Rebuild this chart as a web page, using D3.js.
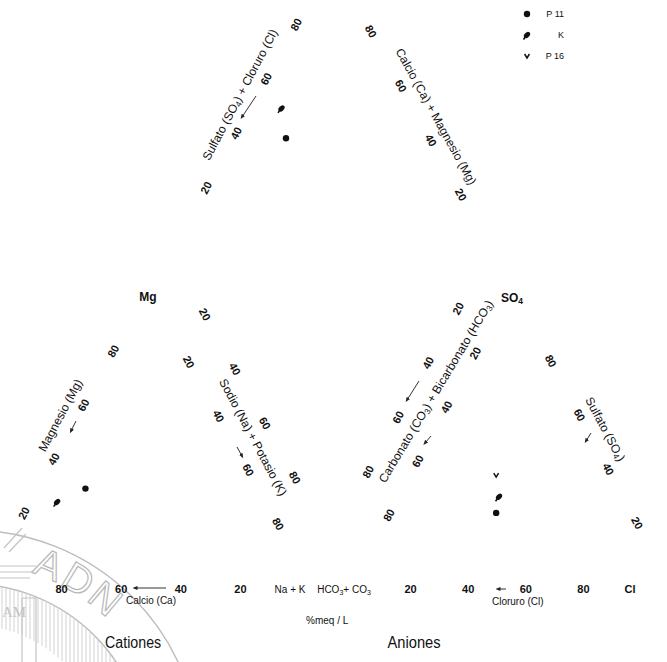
<!DOCTYPE html>
<html>
<head>
<meta charset="utf-8">
<script src="https://cdnjs.cloudflare.com/ajax/libs/d3/7.8.5/d3.min.js"></script>
<style>
body { margin: 0; background: #fff; }
text { font-family: "Liberation Sans Narrow", "Arial Narrow", "Liberation Sans", Arial, sans-serif; fill: #111; }
</style>
</head>
<body>
<div id="chart"></div>
<script>
// samples (percent of meq/L); P 16 has no cation data
const samples = ["P 11", "K", "P 16"];
const calcio = [56, 68, null];
const magnesio = [32, 27, null];
const sodioPotasio = [12, 5, null];
const bicarbonato = [44, 40, 37];
const sulfato = [23, 29, 37];
const cloruro = [33, 31, 26];
const tickValues = [20, 40, 60, 80];

const W = 667, H = 662;
let svg = d3.select("#chart").append("svg")
    .attr("width", W)
    .attr("height", H);

// triangle / diamond corners
const cat = { L: [2, 575], R: [300, 575], T: [151, 305] };
const ani = { L: [368, 575], R: [656, 575], T: [512, 305] };
const dB = [334, 530], du = [-150, -272], dv = [150, -272];
const dL = [dB[0] + du[0], dB[1] + du[1]];
const dR = [dB[0] + dv[0], dB[1] + dv[1]];
const dT = [dB[0] + du[0] + dv[0], dB[1] + du[1] + dv[1]];

function edge(p0, p1) {
    return d3.scaleLinear().domain([0, 100]).range([p0, p1]);
}

// ---------- watermark seal (faint) ----------
let wm = svg.append("g").attr("class", "watermark");
const wc = [-30, 760];
[230, 176].forEach(function (r) {
    wm.append("circle").attr("cx", wc[0]).attr("cy", wc[1]).attr("r", r)
        .attr("fill", "none").attr("stroke", "#bdbdbd").attr("stroke-width", 1.4);
});
for (let x = 2; x < 146; x += 4) {
    let dx = x - wc[0];
    if (dx > 176) continue;
    let y0 = wc[1] - Math.sqrt(176 * 176 - dx * dx);
    let y1 = dx < 135 ? wc[1] - Math.sqrt(135 * 135 - dx * dx) : wc[1];
    wm.append("line").attr("x1", x).attr("x2", x).attr("y1", y0).attr("y2", Math.min(y1, H))
        .attr("stroke", "#d2d2d2").attr("stroke-width", 1);
}
[["A", -68], ["D", -59], ["N", -50]].forEach(function (d) {
    let a = d[1] * Math.PI / 180;
    let px = wc[0] + 211 * Math.cos(a), py = wc[1] + 211 * Math.sin(a);
    wm.append("text").text(d[0])
        .attr("transform", "translate(" + px + "," + py + ") rotate(" + (d[1] + 90) + ")")
        .attr("text-anchor", "middle").attr("dominant-baseline", "central")
        .style("font-family", "'Liberation Sans', Arial, sans-serif")
        .style("font-size", "40px").style("fill", "#fff")
        .attr("stroke", "#b8b8b8").attr("stroke-width", 1.2);
});
wm.append("path").attr("d", "M4,548 L22,528 M9,552 L26,534 M0,566 L36,566 M0,572 L34,572 M0,578 L30,578 M22,598 L36,598 M22,598 L22,662 M36,598 L36,662")
    .attr("fill", "none").attr("stroke", "#c4c4c4").attr("stroke-width", 1.2);
wm.append("text").text("AM").attr("x", 2).attr("y", 617)
    .style("font-family", "'Liberation Serif', serif").style("font-size", "15px").style("fill", "#c4c4c4");

// ---------- tick labels ----------
const tickSets = [
    { s: edge(cat.L, cat.T), dx: -8, dy: -8, rot: -62 },
    { s: edge(cat.T, cat.R), dx: 8, dy: 3, rot: 62 },
    { s: edge(cat.R, cat.L), dx: 0, dy: 14, rot: 0 },
    { s: edge(dL, dB), dx: -9, dy: 2, rot: 62 },
    { s: edge(dL, dT), dx: -8, dy: -16, rot: -62 },
    { s: edge(dR, dT), dx: 7, dy: -9, rot: 62 },
    { s: edge(dR, dB), dx: 4, dy: -4, rot: -62 },
    { s: edge(ani.T, ani.L), dx: -8, dy: -6, rot: -62 },
    { s: edge(ani.R, ani.T), dx: 10, dy: 2, rot: 62 },
    { s: edge(ani.L, ani.R), dx: -15, dy: 14, rot: 0 }
];
tickSets.forEach(function (set) {
    svg.append("g").selectAll("text").data(tickValues).enter()
        .append("text")
        .text(function (d) { return d; })
        .attr("transform", function (d) {
            let p = set.s(d);
            return "translate(" + (p[0] + set.dx) + "," + (p[1] + set.dy) + ") rotate(" + set.rot + ")";
        })
        .attr("text-anchor", "middle")
        .attr("dominant-baseline", "central")
        .style("font-size", "11px")
        .style("font-weight", "bold");
});

// ---------- axis titles ----------
function title(parts, scale, pct, dx, dy, rot, size) {
    let p = scale(pct);
    let t = svg.append("text")
        .attr("transform", "translate(" + (p[0] + dx) + "," + (p[1] + dy) + ") rotate(" + rot + ")")
        .attr("text-anchor", "middle")
        .attr("dominant-baseline", "central")
        .style("font-size", (size || 12) + "px");
    let shift = 0;
    parts.forEach(function (q) {
        let sp = t.append("tspan").text(q[0]);
        if (q[1]) {
            sp.attr("dy", 3 - shift).style("font-size", "0.7em");
            shift = 3;
        } else {
            if (shift) sp.attr("dy", -shift);
            shift = 0;
        }
    });
    return t;
}
title([["Magnesio (Mg)"]], edge(cat.L, cat.T), 58, -28, -3, -62);
title([["Sodio (Na) + Potasio (K)"]], edge(cat.T, cat.R), 49, 29, 0, 62);
title([["Sulfato (SO"], ["4", 1], [") + Cloruro (Cl)"]], edge(dL, dT), 60, -34, 0, -62);
title([["Calcio (Ca) + Magnesio (Mg)"]], edge(dR, dT), 52, 30, 0, 61);
title([["Carbonato (CO"], ["3", 1], [") + Bicarbonato (HCO"], ["3", 1], [")"]], edge(ani.T, ani.L), 32, -30, 0, -59);
title([["Sulfato (SO"], ["4", 1], [")"]], edge(ani.R, ani.T), 54, 27, 0, 62);
title([["Calcio (Ca)"]], edge(cat.R, cat.L), 50, 0, 25, 0, 10);
title([["Cloruro (Cl)"]], edge(ani.L, ani.R), 52, 0, 26, 0, 10);

// corner labels
title([["Mg"]], edge(cat.L, cat.T), 100, -3, -8, 0, 12).style("font-weight", "bold");
title([["SO"], ["4", 1]], edge(ani.R, ani.T), 100, 0, -7, 0, 12).style("font-weight", "bold");
title([["Na + K"]], edge(cat.R, cat.L), 0, -10, 14, 0, 10);
title([["HCO"], ["3", 1], ["+ CO"], ["3", 1]], edge(ani.L, ani.R), 0, -24, 14, 0, 10);
title([["Cl"]], edge(ani.L, ani.R), 100, -26, 14, 0, 11).style("font-weight", "bold");
title([["%meq / L"]], edge(cat.R, ani.L), 40, 0, 45, 0, 10);
title([["Cationes"]], edge(cat.L, cat.R), 44, 0, 67, 0, 16).attr("textLength", 56).attr("lengthAdjust", "spacingAndGlyphs");
title([["Aniones"]], edge(ani.L, ani.R), 16, 0, 67, 0, 16).attr("textLength", 53).attr("lengthAdjust", "spacingAndGlyphs");

// little direction arrows
svg.append("defs").append("marker")
    .attr("id", "ah").attr("viewBox", "0 0 10 10").attr("refX", 5).attr("refY", 5)
    .attr("markerWidth", 5).attr("markerHeight", 5).attr("orient", "auto-start-reverse")
    .append("path").attr("d", "M0,1 L10,5 L0,9 z").attr("fill", "#222");
const arrows = [
    [[76, 421], [71, 431]],
    [[237, 447], [242, 456]],
    [[256, 96], [242, 117]],
    [[166, 588], [135, 588]],
    [[419, 381], [407, 400]],
    [[431, 436], [425, 443]],
    [[506, 589], [498, 589]],
    [[591, 433], [586, 441]]
];
svg.append("g").selectAll("line").data(arrows).enter().append("line")
    .attr("x1", function (d) { return d[0][0]; }).attr("y1", function (d) { return d[0][1]; })
    .attr("x2", function (d) { return d[1][0]; }).attr("y2", function (d) { return d[1][1]; })
    .attr("stroke", "#333").attr("stroke-width", 1)
    .attr("marker-end", "url(#ah)");

// ---------- points ----------
function drawSymbol(g, i) {
    if (i === 0) {
        g.append("circle").attr("r", 3.2).attr("fill", "#111");
    } else if (i === 1) {
        g.append("ellipse").attr("rx", 3.6).attr("ry", 2.5).attr("transform", "rotate(-45)").attr("fill", "#111");
        g.append("line").attr("x1", -1).attr("y1", 1).attr("x2", -3.5).attr("y2", 4.5)
            .attr("stroke", "#111").attr("stroke-width", 1.6);
    } else {
        g.append("path").attr("d", "M-2.4,-2 L0,2 L2.4,-2").attr("fill", "none")
            .attr("stroke", "#111").attr("stroke-width", 1.5);
    }
}

let data = samples.map(function (name, i) {
    return { name: name, i: i, ca: calcio[i], mg: magnesio[i], na: sodioPotasio[i],
             hco3: bicarbonato[i], so4: sulfato[i], cl: cloruro[i] };
});

function cationXY(d) {
    return [ (d.ca * cat.L[0] + d.mg * cat.T[0] + d.na * cat.R[0]) / 100,
             (d.ca * cat.L[1] + d.mg * cat.T[1] + d.na * cat.R[1]) / 100 ];
}
function anionXY(d) {
    return [ (d.hco3 * ani.L[0] + d.so4 * ani.T[0] + d.cl * ani.R[0]) / 100,
             (d.hco3 * ani.L[1] + d.so4 * ani.T[1] + d.cl * ani.R[1]) / 100 ];
}
function diamondXY(d) {
    let a = (d.ca + d.mg) / 100, b = (d.so4 + d.cl) / 100;
    return [dB[0] + a * du[0] + b * dv[0], dB[1] + a * du[1] + b * dv[1]];
}

let withCations = data.filter(function (d) { return d.ca !== null; });
[[withCations, cationXY], [data, anionXY], [withCations, diamondXY]].forEach(function (pair) {
    svg.append("g").selectAll("g").data(pair[0]).enter().append("g")
        .attr("transform", function (d) { return "translate(" + pair[1](d) + ")"; })
        .each(function (d) { drawSymbol(d3.select(this), d.i); });
});

// ---------- legend ----------
const legendY = d3.scalePoint().domain(samples).range([14, 56]);
let leg = svg.append("g").selectAll("g").data(data).enter().append("g")
    .attr("transform", function (d) { return "translate(527," + legendY(d.name) + ")"; });
leg.each(function (d) { drawSymbol(d3.select(this), d.i); });
leg.append("text").text(function (d) { return d.name; })
    .attr("x", 37).attr("dominant-baseline", "central").attr("text-anchor", "end")
    .style("font-size", "9px");
</script>
</body>
</html>
